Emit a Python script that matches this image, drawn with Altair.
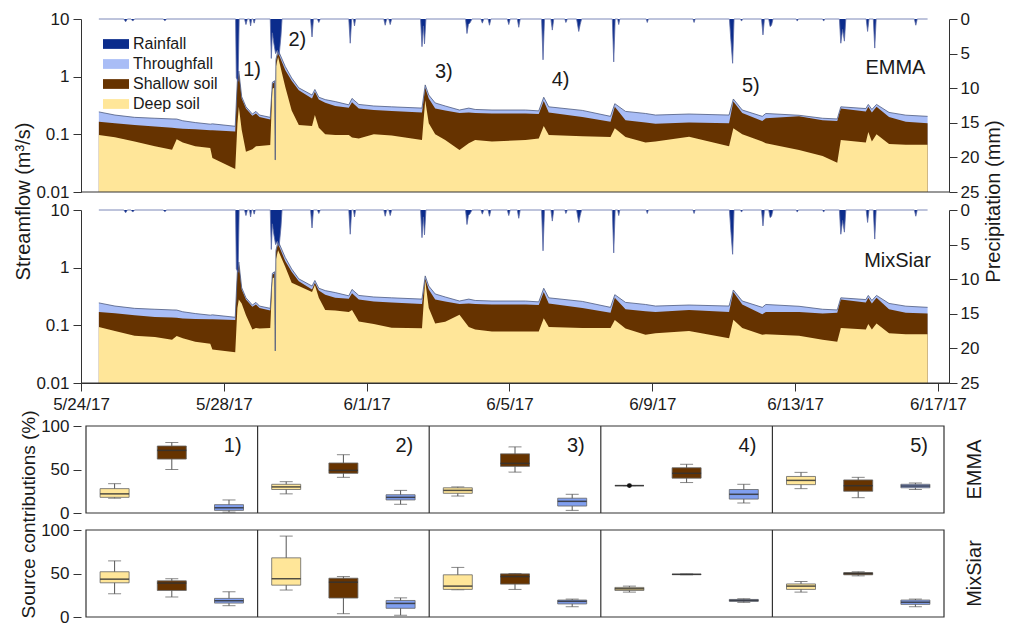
import altair as alt
import pandas as pd

# ---------------- streamflow time series (days after 5/24/17 00:00) ----------------
t_days = [0.50, 0.95, 1.50, 2.07, 2.55, 2.68, 2.85, 3.20, 3.62, 3.68, 4.32, 4.38, 4.42, 4.50,
          4.62, 4.80, 4.90, 5.00, 5.30, 5.36, 5.42, 5.44, 5.46, 5.52, 5.72, 5.90, 6.10, 6.47,
          6.55, 6.66, 6.84, 7.12, 7.50, 7.59, 7.78, 8.20, 8.70, 9.55, 9.64, 9.74, 9.92, 10.20,
          10.60, 10.86, 11.04, 11.51, 12.45, 12.82, 12.96, 13.10, 14.04, 14.83, 14.95, 15.25,
          15.81, 16.09, 17.03, 18.15, 18.27, 18.52, 19.08, 19.18, 20.11, 20.77, 21.18, 21.28,
          21.98, 22.05, 22.15, 22.28, 22.63, 23.10, 23.71]
total_flow = [0.245, 0.216, 0.197, 0.190, 0.185, 0.184, 0.172, 0.160, 0.150, 0.152, 0.138, 0.90, 1.25, 0.45,
              0.30, 0.225, 0.25, 0.216, 0.197, 0.80, 0.85, 0.036, 2.0, 2.9, 1.5, 0.95, 0.64, 0.48,
              0.60, 0.44, 0.40, 0.37, 0.325, 0.42, 0.33, 0.31, 0.30, 0.285, 0.72, 0.48, 0.35, 0.31,
              0.264, 0.285, 0.27, 0.264, 0.264, 0.255, 0.44, 0.30, 0.26, 0.205, 0.34, 0.25,
              0.23, 0.216, 0.225, 0.216, 0.41, 0.264, 0.205, 0.23, 0.214, 0.19, 0.185, 0.30,
              0.28, 0.33, 0.27, 0.33, 0.24, 0.215, 0.205]
emma_shallow = [0.166, 0.156, 0.145, 0.137, 0.130, 0.128, 0.125, 0.122, 0.118, 0.118, 0.112, 0.85, 1.20, 0.42,
                0.28, 0.21, 0.23, 0.20, 0.18, 0.75, 0.80, 0.035, 1.9, 2.6, 1.3, 0.85, 0.58, 0.42,
                0.55, 0.40, 0.354, 0.31, 0.29, 0.36, 0.28, 0.265, 0.253, 0.24, 0.64, 0.42, 0.28, 0.26,
                0.235, 0.24, 0.235, 0.23, 0.23, 0.225, 0.38, 0.24, 0.20, 0.166, 0.30, 0.175,
                0.16, 0.152, 0.16, 0.155, 0.37, 0.235, 0.17, 0.19, 0.205, 0.175, 0.17, 0.28,
                0.25, 0.30, 0.24, 0.30, 0.20, 0.165, 0.155]
emma_deep = [0.097, 0.089, 0.075, 0.062, 0.054, 0.082, 0.072, 0.062, 0.058, 0.039, 0.025, 0.15, 0.30, 0.12,
             0.050, 0.055, 0.062, 0.063, 0.065, 0.62, 0.65, 0.034, 1.5, 2.2, 0.67, 0.26, 0.145, 0.14,
             0.216, 0.13, 0.10, 0.097, 0.097, 0.088, 0.085, 0.10, 0.095, 0.080, 0.39, 0.155, 0.10, 0.080,
             0.0535, 0.070, 0.080, 0.075, 0.080, 0.085, 0.14, 0.097, 0.093, 0.090, 0.128, 0.090,
             0.072, 0.075, 0.091, 0.062, 0.128, 0.10, 0.075, 0.070, 0.0535, 0.042, 0.032, 0.080,
             0.072, 0.11, 0.075, 0.10, 0.068, 0.066, 0.066]
mix_shallow = [0.171, 0.162, 0.150, 0.140, 0.137, 0.135, 0.132, 0.129, 0.127, 0.127, 0.124, 0.87, 1.20, 0.42,
               0.28, 0.21, 0.23, 0.20, 0.18, 0.75, 0.80, 0.035, 1.9, 2.6, 1.3, 0.85, 0.58, 0.42,
               0.55, 0.40, 0.34, 0.30, 0.29, 0.36, 0.28, 0.26, 0.25, 0.235, 0.64, 0.42, 0.28, 0.26,
               0.235, 0.24, 0.235, 0.23, 0.23, 0.225, 0.38, 0.24, 0.20, 0.166, 0.30, 0.19,
               0.175, 0.171, 0.185, 0.17, 0.38, 0.23, 0.155, 0.17, 0.17, 0.16, 0.165, 0.28,
               0.25, 0.30, 0.24, 0.30, 0.19, 0.165, 0.16]
mix_deep = [0.094, 0.080, 0.066, 0.063, 0.056, 0.065, 0.060, 0.052, 0.048, 0.038, 0.034, 0.20, 0.28, 0.24,
            0.15, 0.085, 0.090, 0.088, 0.090, 0.65, 0.68, 0.034, 1.4, 2.0, 1.04, 0.55, 0.48, 0.38,
            0.50, 0.30, 0.185, 0.18, 0.17, 0.185, 0.117, 0.105, 0.091, 0.089, 0.60, 0.20, 0.108, 0.115,
            0.152, 0.094, 0.085, 0.078, 0.078, 0.078, 0.133, 0.094, 0.090, 0.090, 0.124, 0.088,
            0.069, 0.073, 0.080, 0.060, 0.125, 0.090, 0.069, 0.070, 0.066, 0.056, 0.052, 0.090,
            0.085, 0.105, 0.085, 0.108, 0.073, 0.070, 0.070]

# ---------------- rainfall (mm) ----------------
rain_days = [0.50, 1.20, 1.25, 1.30, 1.40, 1.45, 1.50, 2.30, 2.35, 2.40,
             4.33, 4.35, 4.40, 4.43, 4.58, 4.62, 4.66, 4.72, 4.75, 4.78, 4.82, 4.85, 4.88,
             5.30, 5.33, 5.36, 5.40, 5.45, 5.50, 5.55, 5.60, 5.63,
             6.43, 6.47, 6.51, 6.62, 6.66, 6.70,
             7.50, 7.54, 7.58, 7.63, 7.66, 7.69, 8.48, 8.52, 8.56, 8.62, 8.66, 8.70,
             9.51, 9.55, 9.59, 9.62, 9.66, 10.77, 10.81, 10.85, 10.90, 10.95,
             11.20, 11.24, 11.28, 11.40, 11.44, 11.48, 11.94, 11.98, 12.02, 12.22, 12.26, 12.30,
             12.90, 12.94, 12.98, 13.16, 13.20, 13.24, 13.55, 13.58, 13.62,
             13.88, 13.94, 13.98, 14.02, 14.88, 14.92, 14.96, 15.03, 15.06, 15.09,
             15.83, 15.86, 15.89, 17.14, 17.17, 17.20,
             18.16, 18.20, 18.25, 18.29, 18.47, 18.50, 18.53,
             19.06, 19.10, 19.14, 19.26, 19.30, 19.34, 19.38, 20.03, 20.06, 20.09, 20.77, 20.80, 20.83,
             21.24, 21.28, 21.33, 21.38, 21.42, 21.99, 22.03, 22.07, 22.19, 22.23, 22.27,
             23.34, 23.38, 23.42, 23.71]
rain_mm = [0, 0, 0.4, 0, 0, 0.3, 0, 0, 0.25, 0,
           0, 8.5, 9.0, 0, 0, 0.8, 0, 0, 1.0, 0, 0, 0.6, 0,
           0, 5.7, 2.0, 3.5, 5.0, 4.5, 5.2, 2.5, 0,
           0, 2.6, 0, 0, 0.5, 0,
           0, 3.5, 0, 0, 1.0, 0, 0, 0.9, 0, 0, 0.8, 0,
           0, 4.0, 1.0, 3.6, 0, 0, 2.1, 0.8, 0.5, 0,
           0, 0.6, 0, 0, 0.9, 0, 0, 0.8, 0, 0, 1.2, 0,
           0, 5.9, 0, 0, 1.6, 0, 0, 0.5, 0,
           0, 1.8, 0.8, 0, 0, 6.2, 0, 0, 0.8, 0,
           0, 0.5, 0, 0, 0.5, 0,
           0, 3.0, 6.4, 0, 0, 0.3, 0,
           0, 2.3, 0, 0, 1.1, 0.9, 0, 0, 0.3, 0, 0, 0.3, 0,
           0, 3.5, 1.5, 3.2, 0, 0, 1.8, 0, 0, 4.2, 0,
           0, 0.9, 0, 0]

event_labels = ["1)", "2)", "3)", "4)", "5)"]
event_days = [4.79, 6.06, 10.16, 13.43, 18.76]
event_flow = [1.31, 4.3, 1.22, 0.875, 0.69]

tag_labels = ["EMMA", "MixSiar"]
tag_days = [23.65, 23.80]
tag_flow = [1.42, 1.28]

legend_names = ["Rainfall", "Throughfall", "Shallow soil", "Deep soil"]
legend_colors = ["#0b2c8c", "#a9bdf6", "#663300", "#ffe699"]
date_ticks = [(5, 24), (5, 28), (6, 1), (6, 5), (6, 9), (6, 13), (6, 17)]

# ---------------- boxplot statistics (%), 5 events x (deep, shallow, throughfall) ----------------
sources = ["Deep soil", "Shallow soil", "Throughfall"]
box_colors = ["#ffe699", "#663300", "#809ff0"]
emma_lo = [17, 50, 1, 22, 41, 10, 19.5, 47, 3, 31.5, 35, 11.5, 28, 17.6, 27]
emma_q1 = [18, 62, 3, 27, 45.6, 15, 22.6, 53.6, 8, 31.5, 40, 16, 32.6, 25, 29]
emma_med = [22, 72, 6, 30, 49, 18, 26, 57, 13.4, 31.5, 45.6, 21.5, 37.5, 31.4, 31]
emma_q3 = [28, 77, 9.6, 33, 57.5, 21, 29, 68, 17, 31.5, 52, 27, 42, 38, 33]
emma_hi = [33.7, 81, 15, 36, 67, 26, 30, 76, 21.5, 31.5, 56, 33, 46.7, 41, 34.5]
mix_lo = [26.7, 23, 13, 31, 3.8, 2, 31.3, 31.7, 11.8, 28.6, 48.5, 16.8, 28.6, 47.3, 11.8]
mix_q1 = [39.3, 30.5, 16, 36.6, 21.8, 10, 31.7, 37.8, 15, 30.5, 48.8, 18, 31.7, 48.5, 14.5]
mix_med = [43.5, 39, 18.7, 44, 40, 15.6, 35.5, 46.5, 18, 32.4, 49, 19, 35.5, 50, 17]
mix_q3 = [52, 41.6, 21.4, 68, 44.6, 19, 48.5, 49.6, 19.5, 34, 49.2, 20.2, 38, 51, 19.5]
mix_hi = [64.5, 44, 29, 93, 46.5, 22, 57, 50, 20.6, 35.5, 49.5, 21, 40.8, 52, 20.6]
outlier_model = ["EMMA"]
outlier_slot = [9]          # panel 4, deep soil
outlier_value = [31.5]
panel_labels = ["1)", "2)", "3)", "4)", "5)"]

# ---------------- build tables ----------------
START = pd.Timestamp("2017-05-24")


def stamp(days):
    return [(START + pd.Timedelta(days=d)).strftime("%Y-%m-%dT%H:%M:%S") for d in days]


flow = pd.DataFrame({"t": stamp(t_days), "total": total_flow, "emma_sh": emma_shallow,
                     "emma_dp": emma_deep, "mix_sh": mix_shallow, "mix_dp": mix_deep})
rain = pd.DataFrame({"t": stamp(rain_days), "mm": rain_mm})
events = pd.DataFrame({"t": stamp(event_days), "v": event_flow, "label": event_labels})
tags = pd.DataFrame({"t": stamp(tag_days), "v": tag_flow, "label": tag_labels})

rows = []
for model, stats in (("EMMA", (emma_lo, emma_q1, emma_med, emma_q3, emma_hi)),
                     ("MixSiar", (mix_lo, mix_q1, mix_med, mix_q3, mix_hi))):
    for k in range(15):
        rows.append({"model": model, "panel": k // 3 + 1, "source": sources[k % 3], "xpos": k + 0.5,
                     "lo": stats[0][k], "q1": stats[1][k], "med": stats[2][k],
                     "q3": stats[3][k], "hi": stats[4][k]})
box_df = pd.DataFrame(rows)
out_df = pd.DataFrame({"model": outlier_model, "xpos": [s + 0.5 for s in outlier_slot], "v": outlier_value})
div_df = pd.DataFrame({"xd": [3 * i for i in range(1, 5)]})
plab_df = pd.DataFrame({"xpos": [3 * (i + 1) - 0.28 for i in range(5)], "v": [77] * 5, "label": panel_labels})
one = pd.DataFrame({"k": [0]})

FONT = "Liberation Sans"
INK = "#1a1a1a"
AX = "#333333"
W = 868

# ---------------- time-series chart ----------------
x_time = alt.X(
    "t:T", title=None,
    scale=alt.Scale(domain=[alt.DateTime(year=2017, month=5, date=24),
                            alt.DateTime(year=2017, month=6, date=17, hours=7, minutes=26)], nice=False),
    axis=alt.Axis(values=[alt.DateTime(year=2017, month=m, date=d) for m, d in date_ticks],
                  format="%-m/%-d/%y", labelFlush=False, labelOverlap=False, tickSize=8,
                  labelPadding=5, labelFontSize=17, grid=False, domainColor=AX, tickColor=AX,
                  labelColor=INK))

color_scale = alt.Scale(domain=legend_names, range=legend_colors)
legend = alt.Legend(orient="none", legendX=27, legendY=17, title=None,
                    symbolType="M-2,-0.75H2V0.75H-2Z", symbolSize=169, symbolStrokeWidth=0,
                    labelFontSize=16, labelColor=INK, rowPadding=4, labelOffset=9, padding=0)
color_enc = alt.Color("src:N", scale=color_scale, legend=legend)


def flow_axis(title):
    kw = dict(orient="left", values=[0.01, 0.1, 1, 10], format="~g", tickSize=8, labelPadding=4,
              labelFontSize=17, grid=False, domainColor=AX, tickColor=AX, labelColor=INK)
    if title:
        kw.update(title=title, titleFontSize=20, titleFontWeight="normal", titleY=182,
                  titleColor=INK, titlePadding=2)
    else:
        kw["title"] = None
    return alt.Axis(**kw)


def prec_axis(title):
    kw = dict(orient="right", values=[0, 5, 10, 15, 20, 25], tickSize=8, labelPadding=3,
              labelFontSize=17, grid=False, domainColor=AX, tickColor=AX, labelColor=INK)
    if title:
        kw.update(title=title, titleFontSize=20, titleFontWeight="normal", titleY=182,
                  titleAngle=270, titleBaseline="top", titleColor=INK, titlePadding=5)
    else:
        kw["title"] = None
    return alt.Axis(**kw)


def flow_group(sh, dp, yscale, yaxis, with_events, tag_row):
    def Y(f):
        return alt.Y(f"{f}:Q", scale=yscale, axis=yaxis)

    def area(field, name):
        return alt.Chart(flow).transform_calculate(src=f"'{name}'").mark_area().encode(
            x=x_time, y=Y(field), y2=alt.datum(0.01), color=color_enc)

    layers = [
        area("total", "Throughfall"),
        area(sh, "Shallow soil"),
        area(dp, "Deep soil"),
        alt.Chart(flow).mark_line(color="#4d5a80", strokeWidth=0.8).encode(x=x_time, y=Y("total")),
        alt.Chart(one).mark_rule(color=AX, strokeWidth=1).encode(
            y=alt.YDatum(0.01, scale=yscale, axis=yaxis)),
    ]
    if with_events:
        layers.append(alt.Chart(events).mark_text(fontSize=20, color=INK).encode(
            x=x_time, y=Y("v"), text="label:N"))
    layers.append(alt.Chart(tags.iloc[[tag_row]]).mark_text(fontSize=20, color=INK, align="right").encode(
        x=x_time, y=Y("v"), text="label:N"))
    return alt.layer(*layers)


def rain_group(pscale, paxis):
    Y = alt.Y("mm:Q", scale=pscale, axis=paxis)
    return alt.layer(
        alt.Chart(rain).transform_calculate(src="'Rainfall'").mark_area().encode(
            x=x_time, y=Y, y2=alt.datum(0), color=color_enc),
        alt.Chart(rain).mark_line(color="#5b6aa6", strokeWidth=0.8).encode(x=x_time, y=Y),
    )


emma_y = alt.Scale(type="log", domain=[0.01, 10], range=[173, 0], nice=False)
mix_y = alt.Scale(type="log", domain=[0.01, 10], range=[364, 191], nice=False)
emma_p = alt.Scale(domain=[0, 25], range=[0, 173], nice=False)
mix_p = alt.Scale(domain=[0, 25], range=[191, 364], nice=False)

time_chart = alt.layer(
    flow_group("emma_sh", "emma_dp", emma_y, flow_axis("Streamflow (m³/s)"), True, 0),
    rain_group(emma_p, prec_axis("Precipitation (mm)")),
    flow_group("mix_sh", "mix_dp", mix_y, flow_axis(None), False, 1),
    rain_group(mix_p, prec_axis(None)),
).resolve_scale(y="independent").properties(width=W, height=364)

# ---------------- boxplot chart ----------------
bx_scale = alt.Scale(domain=[0, 15], nice=False, zero=False)
box_x = alt.X("xpos:Q", scale=bx_scale, axis=None)
box_color = alt.Scale(domain=sources, range=box_colors)


def box_axis(title):
    kw = dict(orient="left", values=[0, 50, 100], tickSize=8, labelPadding=4, labelFontSize=17,
              domain=False, grid=False, tickColor=AX, labelColor=INK)
    if title:
        kw.update(title=title, titleFontSize=19, titleFontWeight="normal", titleY=88,
                  titleColor=INK, titlePadding=2)
    else:
        kw["title"] = None
    return alt.Axis(**kw)


def box_row(model, yscale, yaxis, with_labels):
    def Y(f):
        return alt.Y(f"{f}:Q", scale=yscale, axis=yaxis)
    d = box_df[box_df.model == model]
    base = alt.Chart(d)
    layers = [
        alt.Chart(one).mark_rect(fillOpacity=0, stroke=AX, strokeWidth=1.2).encode(
            x=alt.XDatum(0, scale=bx_scale, axis=None), x2=alt.datum(15),
            y=alt.YDatum(0, scale=yscale, axis=yaxis), y2=alt.datum(100)),
        alt.Chart(div_df).mark_rule(color=AX, strokeWidth=1.2).encode(
            x=alt.X("xd:Q", scale=bx_scale, axis=None),
            y=alt.YDatum(0, scale=yscale, axis=yaxis), y2=alt.datum(100)),
        base.mark_rule(color="#555555", strokeWidth=1).encode(x=box_x, y=Y("lo"), y2="hi:Q"),
        base.mark_tick(orient="horizontal", size=13, thickness=1, color="#555555").encode(x=box_x, y=Y("lo")),
        base.mark_tick(orient="horizontal", size=13, thickness=1, color="#555555").encode(x=box_x, y=Y("hi")),
        base.mark_bar(size=29, stroke="#666666", strokeWidth=0.8).encode(
            x=box_x, y=Y("q1"), y2="q3:Q",
            color=alt.Color("source:N", scale=box_color, legend=None)),
        base.mark_tick(orient="horizontal", size=29, thickness=1.5, color="#333333", opacity=0.85).encode(
            x=box_x, y=Y("med")),
    ]
    od = out_df[out_df.model == model]
    if len(od):
        layers.append(alt.Chart(od).mark_circle(size=24, color="#111111", opacity=1).encode(x=box_x, y=Y("v")))
    if with_labels:
        layers.append(alt.Chart(plab_df).mark_text(fontSize=20, color=INK, align="right").encode(
            x=box_x, y=Y("v"), text="label:N"))
    layers.append(alt.Chart(pd.DataFrame({"xpos": [15.54], "v": [50], "label": [model]})).mark_text(
        fontSize=20, color=INK, angle=270).encode(x=box_x, y=Y("v"), text="label:N"))
    return alt.layer(*layers)


r1 = alt.Scale(domain=[0, 100], range=[87, 0], nice=False)
r2 = alt.Scale(domain=[0, 100], range=[191, 104], nice=False)
box_chart = alt.layer(
    box_row("EMMA", r1, box_axis("Source contributions (%)"), True),
    box_row("MixSiar", r2, box_axis(None), False),
).resolve_scale(y="independent").properties(width=W, height=191)

chart = alt.vconcat(time_chart, box_chart, spacing=-4).resolve_scale(color="independent").properties(
    padding={"left": 5, "top": 1, "right": 0, "bottom": 0}
).configure(font=FONT).configure_view(stroke="transparent")

chart.save("out.html", embed_options={"renderer": "svg", "actions": False})
